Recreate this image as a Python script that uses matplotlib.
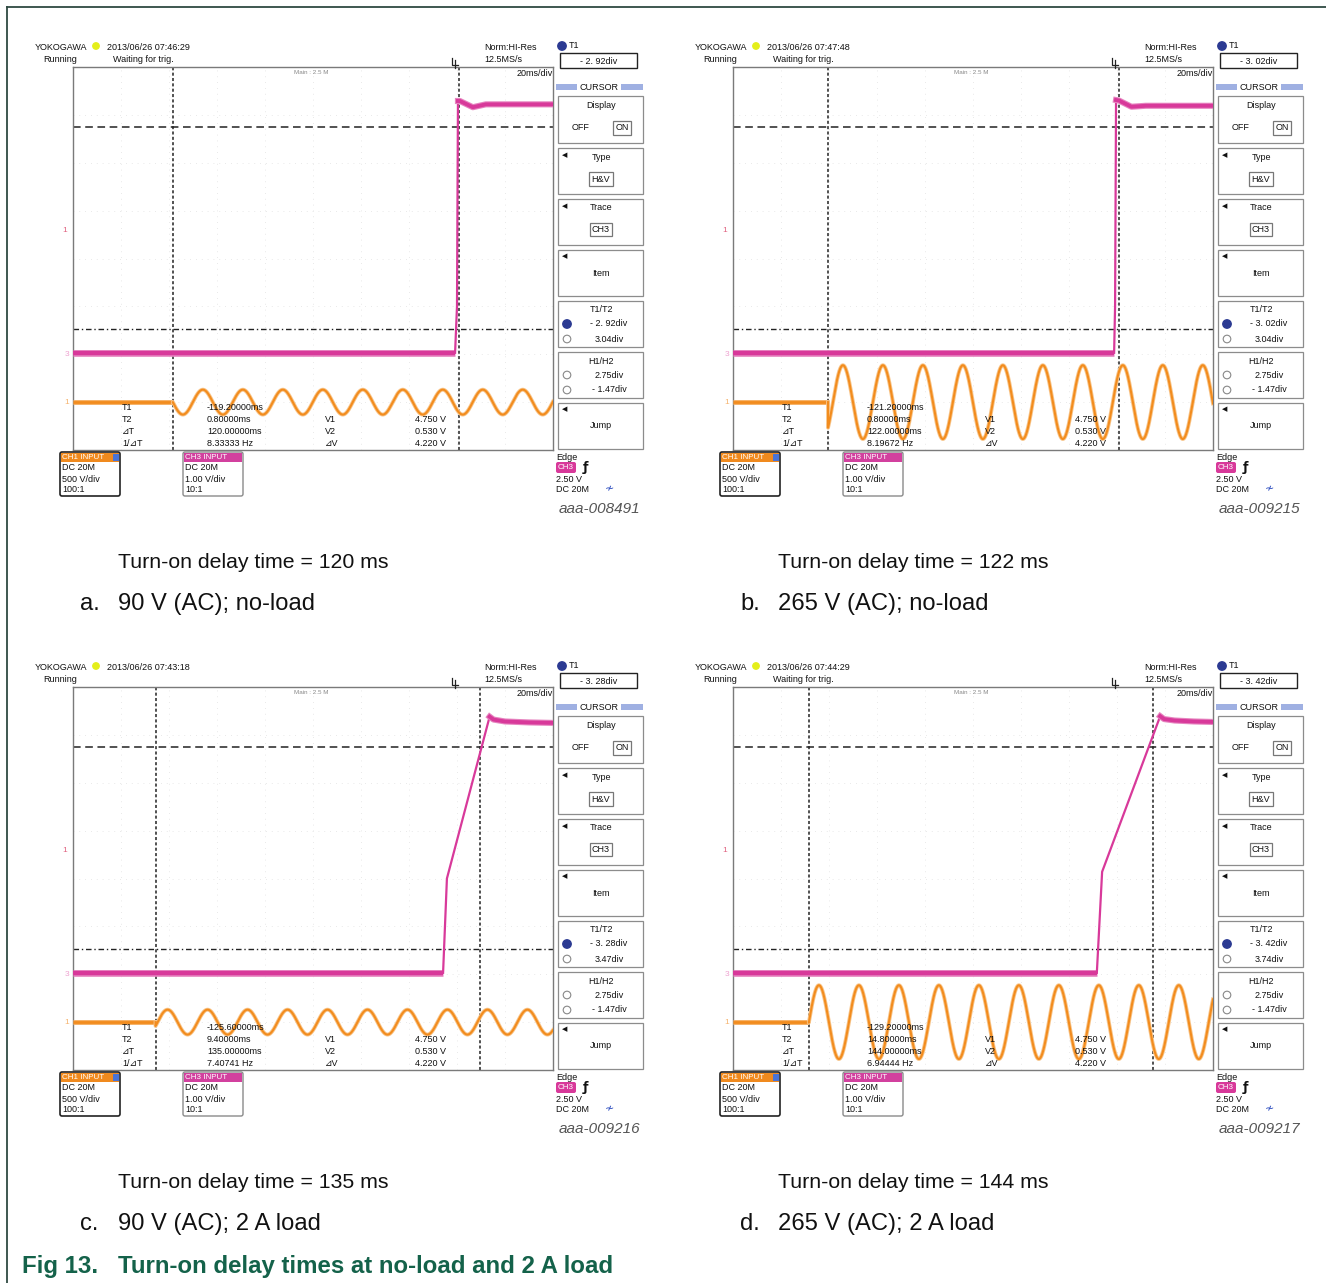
import numpy as np
import matplotlib
matplotlib.use("Agg")
import matplotlib.pyplot as plt
from matplotlib.patches import Rectangle, FancyBboxPatch, Circle

plt.rcParams['font.family'] = ['Liberation Sans', 'DejaVu Sans']

W, H = 1326, 1283

# ---- data ----
panel_offsets = [(0, 0), (660, 0), (0, 620), (660, 620)]
timestamps = ['2013/06/26 07:46:29', '2013/06/26 07:47:48',
              '2013/06/26 07:43:18', '2013/06/26 07:44:29']
waiting = [True, True, False, True]
t1_div = [-2.92, -3.02, -3.28, -3.42]
t2_div = [3.04, 3.04, 3.47, 3.74]
t1_box = ['- 2. 92div', '- 3. 02div', '- 3. 28div', '- 3. 42div']
t2_box = ['3.04div', '3.04div', '3.47div', '3.74div']
h1_div = 2.75
h2_div = -1.47
t1_ms = ['-119.20000ms', '-121.20000ms', '-125.60000ms', '-129.20000ms']
t2_ms = ['0.80000ms', '0.80000ms', '9.40000ms', '14.80000ms']
dt_ms = ['120.00000ms', '122.00000ms', '135.00000ms', '144.00000ms']
inv_dt = ['8.33333 Hz', '8.19672 Hz', '7.40741 Hz', '6.94444 Hz']
v_vals = ['4.750 V', '0.530 V', '4.220 V']
fig_codes = ['aaa-008491', 'aaa-009215', 'aaa-009216', 'aaa-009217']
delay_ms = [120, 122, 135, 144]
letters = ['a.', 'b.', 'c.', 'd.']
conditions = ['90 V (AC); no-load', '265 V (AC); no-load',
              '90 V (AC); 2 A load', '265 V (AC); 2 A load']

# CH3 output (pink), in divisions
pink_low = -1.97
pink_rise_x = [[2.96, 3.00, 3.02], [2.94, 2.96, 2.98], [2.71, 2.79, 3.68], [2.58, 2.69, 3.90]]
pink_rise_y = [[-1.97, -1.0, 3.29], [-1.97, -1.0, 3.31], [-1.97, 0.0, 3.38], [-1.97, 0.14, 3.39]]
pink_top_x = [[3.02, 3.06, 3.33, 3.6, 5.0], [2.98, 3.04, 3.3, 3.6, 5.0],
              [3.68, 3.76, 4.0, 4.5, 5.0], [3.90, 3.98, 4.2, 4.6, 5.0]]
pink_top_y = [[3.29, 3.29, 3.16, 3.22, 3.22], [3.31, 3.30, 3.17, 3.19, 3.19],
              [3.38, 3.32, 3.28, 3.26, 3.25], [3.39, 3.33, 3.30, 3.28, 3.27]]

# CH1 mains input (orange), in divisions
orange_base = -3.0
orange_amp = [0.26, 0.77, 0.26, 0.77]
orange_period = 0.833          # 16.7 ms at 20 ms/div
orange_peak_offset = [0.625, 0.31, 0.25, 0.21]

PINK = '#d8399a'
ORANGE = '#f28c1e'
BLUE = '#2b3a92'
GREEN = '#14624a'

fig = plt.figure(figsize=(W / 100, H / 100), dpi=100)
fig.patch.set_facecolor('white')


def plot_panel(i, ox, oy):
    ax = fig.add_axes([(ox + 73) / W, 1 - (oy + 450) / H, 480 / W, 383 / H])
    ax.set_xlim(-5, 5)
    ax.set_ylim(-4, 4)
    ax.set_xticks([])
    ax.set_yticks([])
    for s in ax.spines.values():
        s.set_color('#7a7a7a')
        s.set_linewidth(1.0)
    for gx in range(-4, 5):
        ax.axvline(gx, color='#e2e2e2', lw=0.6, ls=(0, (1, 6)), zorder=0)
    for gy in range(-3, 4):
        ax.axhline(gy, color='#e2e2e2', lw=0.6, ls=(0, (1, 6)), zorder=0)

    # cursors
    ax.axhline(h1_div, color='#222222', lw=1.1, ls=(0, (5, 3)), zorder=1)
    ax.axhline(h2_div, color='#222222', lw=1.0, ls=(0, (4, 2, 1, 2)), zorder=1)
    ax.axvline(t1_div[i], color='#222222', lw=1.1, ls=(0, (2, 1.5)), zorder=1)
    ax.axvline(t2_div[i], color='#222222', lw=1.1, ls=(0, (2, 1.5)), zorder=1)

    # pink output trace
    fx = [-5, pink_rise_x[i][0]]
    ax.plot(fx, [pink_low, pink_low], color='#e683bf', lw=4.8, solid_capstyle='butt', zorder=3)
    ax.plot(fx, [pink_low, pink_low], color=PINK, lw=3.2, solid_capstyle='butt', zorder=3)
    ax.plot(pink_rise_x[i], pink_rise_y[i], color=PINK, lw=1.6, zorder=3)
    ax.plot(pink_top_x[i], pink_top_y[i], color='#e683bf', lw=4.4, zorder=3)
    ax.plot(pink_top_x[i], pink_top_y[i], color=PINK, lw=2.8, zorder=3)

    # orange mains trace
    start = t1_div[i]
    xs = np.linspace(start, 5, 1500)
    ys = orange_base + orange_amp[i] * np.cos(
        2 * np.pi * (xs - start - orange_peak_offset[i]) / orange_period)
    ax.plot([-5, start], [orange_base, orange_base], color='#f6b36a', lw=3.6,
            solid_capstyle='butt', zorder=4)
    ax.plot([-5, start], [orange_base, orange_base], color=ORANGE, lw=2.0,
            solid_capstyle='butt', zorder=4)
    ax.plot(np.r_[start, xs], np.r_[orange_base, ys], color='#f8c58a', lw=2.8, zorder=4)
    ax.plot(np.r_[start, xs], np.r_[orange_base, ys], color=ORANGE, lw=1.5, zorder=4)


for i, (ox, oy) in enumerate(panel_offsets):
    plot_panel(i, ox, oy)

ov = fig.add_axes([0, 0, 1, 1], zorder=10)
ov.set_xlim(0, W)
ov.set_ylim(H, 0)
ov.axis('off')
ov.patch.set_alpha(0)


def txt(ox, oy, x, y, s, size=6.5, **kw):
    kw.setdefault('va', 'center')
    kw.setdefault('ha', 'left')
    kw.setdefault('color', '#111111')
    ov.text(ox + x, oy + y, s, fontsize=size, **kw)


def rect(ox, oy, x0, y0, x1, y1, fc='none', ec='#8c8c8c', lw=0.9, round_=0):
    if round_:
        p = FancyBboxPatch((ox + x0, oy + y0), x1 - x0, y1 - y0,
                           boxstyle=f'round,pad=0,rounding_size={round_}',
                           fc=fc, ec=ec, lw=lw)
    else:
        p = Rectangle((ox + x0, oy + y0), x1 - x0, y1 - y0, fc=fc, ec=ec, lw=lw)
    ov.add_patch(p)


def scope_text(i, ox, oy):
    # header
    txt(ox, oy, 35, 47, 'YOKOGAWA', size=6.5)
    ov.add_patch(Circle((ox + 96, oy + 46), 3.2, color='#e4ee1a'))
    txt(ox, oy, 107, 47, timestamps[i], size=6.5)
    txt(ox, oy, 43, 59, 'Running', size=6.5)
    if waiting[i]:
        txt(ox, oy, 113, 59, 'Waiting for trig.', size=6.5)
    txt(ox, oy, 484, 47, 'Norm:HI-Res', size=6.5)
    txt(ox, oy, 484, 59, '12.5MS/s', size=6.5)
    txt(ox, oy, 553, 74, '20ms/div', size=6.5, ha='right')
    txt(ox, oy, 311, 72, 'Main : 2.5 M', size=4.5, ha='center', color='#8a8a8a')
    # trigger position mark
    ov.plot([ox + 452, ox + 452, ox + 458], [oy + 58, oy + 65, oy + 65], color='#222222', lw=0.9)
    ov.plot([ox + 455, ox + 455], [oy + 60, oy + 68], color='#222222', lw=0.9)
    # ground / level markers
    txt(ox, oy, 65, 230, '1', size=6, color='#e0607e', ha='center')
    txt(ox, oy, 67, 355, '3', size=6, color='#eea0cf', ha='center')
    txt(ox, oy, 67, 403, '1', size=6, color='#f5b36e', ha='center')

    # cursor readout
    for row, (lab, val) in enumerate(zip(['T1', 'T2', '\u22bfT', '1/\u22bfT'],
                                         [t1_ms[i], t2_ms[i], dt_ms[i], inv_dt[i]])):
        txt(ox, oy, 122, 408 + 12 * row, lab)
        txt(ox, oy, 207, 408 + 12 * row, val)
    for row, (lab, val) in enumerate(zip(['V1', 'V2', '\u22bfV'], v_vals)):
        txt(ox, oy, 325, 420 + 12 * row, lab)
        txt(ox, oy, 446, 420 + 12 * row, val, ha='right')

    # channel boxes
    rect(ox, oy, 60, 452, 120, 496, fc='white', ec='#222222', lw=1.2, round_=2)
    rect(ox, oy, 61, 453, 119, 462, fc='#f08a1e', ec='none', lw=0)
    rect(ox, oy, 113, 454, 119, 461, fc='#4a74d6', ec='none', lw=0)
    txt(ox, oy, 62, 457.5, 'CH1 INPUT', size=5.8, color='white')
    for row, s in enumerate(['DC 20M', '500 V/div', '100:1']):
        txt(ox, oy, 62, 468 + 11 * row, s)
    rect(ox, oy, 183, 452, 243, 496, fc='white', ec='#8a8a8a', lw=1.0, round_=2)
    rect(ox, oy, 184, 453, 242, 462, fc='#d2409e', ec='none', lw=0)
    txt(ox, oy, 185, 457.5, 'CH3 INPUT', size=5.8, color='white')
    for row, s in enumerate(['DC 20M', '1.00 V/div', '10:1']):
        txt(ox, oy, 185, 468 + 11 * row, s)

    # soft-key menu
    ov.add_patch(Circle((ox + 562, oy + 46), 4.2, color=BLUE))
    txt(ox, oy, 569, 46, 'T1')
    rect(ox, oy, 560, 53, 637, 68, ec='#222222', lw=1.0)
    txt(ox, oy, 599, 61, t1_box[i], ha='center')
    rect(ox, oy, 556, 84, 577, 90, fc='#9fb0e2', ec='none', lw=0)
    rect(ox, oy, 621, 84, 643, 90, fc='#9fb0e2', ec='none', lw=0)
    txt(ox, oy, 599, 87, 'CURSOR', ha='center')
    boxes = [(96, 143), (148, 194), (199, 245), (250, 296), (301, 347), (352, 398), (403, 449)]
    for y0, y1 in boxes:
        rect(ox, oy, 558, y0, 643, y1, ec='#8c8c8c', lw=0.9)
    txt(ox, oy, 601, 105, 'Display', ha='center')
    txt(ox, oy, 581, 128, 'OFF', ha='center')
    rect(ox, oy, 613, 121, 631, 135, ec='#777777', lw=0.9)
    txt(ox, oy, 622, 128, 'ON', ha='center')
    for y in [155, 206, 256, 409]:
        txt(ox, oy, 565, y, '\u25c0', size=5, ha='center', family='DejaVu Sans')
    txt(ox, oy, 601, 157, 'Type', ha='center')
    rect(ox, oy, 589, 172, 613, 186, ec='#777777', lw=0.9)
    txt(ox, oy, 601, 179, 'H&V', ha='center')
    txt(ox, oy, 601, 208, 'Trace', ha='center')
    rect(ox, oy, 590, 223, 612, 236, ec='#777777', lw=0.9)
    txt(ox, oy, 601, 229.5, 'CH3', ha='center')
    txt(ox, oy, 601, 274, 'Item', ha='center')
    txt(ox, oy, 601, 310, 'T1/T2', ha='center')
    ov.add_patch(Circle((ox + 567, oy + 324), 4.2, color=BLUE))
    txt(ox, oy, 609, 324, t1_box[i], ha='center')
    ov.add_patch(Circle((ox + 567, oy + 339), 3.8, fc='white', ec='#888888', lw=0.8))
    txt(ox, oy, 609, 339, t2_box[i], ha='center')
    txt(ox, oy, 601, 361, 'H1/H2', ha='center')
    ov.add_patch(Circle((ox + 567, oy + 375), 3.8, fc='white', ec='#888888', lw=0.8))
    txt(ox, oy, 609, 375, '2.75div', ha='center')
    ov.add_patch(Circle((ox + 567, oy + 390), 3.8, fc='white', ec='#888888', lw=0.8))
    txt(ox, oy, 609, 390, '- 1.47div', ha='center')
    txt(ox, oy, 601, 426, 'Jump', ha='center')

    # trigger info
    txt(ox, oy, 556, 457, 'Edge')
    rect(ox, oy, 556, 462, 576, 473, fc='#d8399a', ec='none', lw=0, round_=2)
    txt(ox, oy, 566, 467.5, 'CH3', size=5.8, color='white', ha='center')
    txt(ox, oy, 585, 467, '\u0192', size=9, weight='bold', ha='center', family='DejaVu Sans')
    txt(ox, oy, 556, 479, '2.50 V')
    txt(ox, oy, 556, 490, 'DC 20M')
    txt(ox, oy, 609, 489, '\u2241', size=8, color='#3050c0', ha='center', family='DejaVu Sans')
    txt(ox, oy, 640, 509, fig_codes[i], size=11, style='italic', color='#555555', ha='right')

    # captions
    txt(ox, oy, 118, 563, f'Turn-on delay time = {delay_ms[i]} ms', size=15.3)
    txt(ox, oy, 80, 604, letters[i], size=17.1)
    txt(ox, oy, 118, 604, conditions[i], size=17.1)


for i, (ox, oy) in enumerate(panel_offsets):
    scope_text(i, ox, oy)

# outer frame
ov.plot([7, 7], [7, H], color='#2f4a42', lw=1.3, clip_on=False)
ov.plot([7, W], [7, 7], color='#2f4a42', lw=1.3, clip_on=False)

ov.text(22, 1266, 'Fig 13.', fontsize=17.3, weight='bold', color=GREEN, va='center')
ov.text(118, 1266, 'Turn-on delay times at no-load and 2 A load', fontsize=17.3,
        weight='bold', color=GREEN, va='center')

fig.savefig('out.png', dpi=100)
